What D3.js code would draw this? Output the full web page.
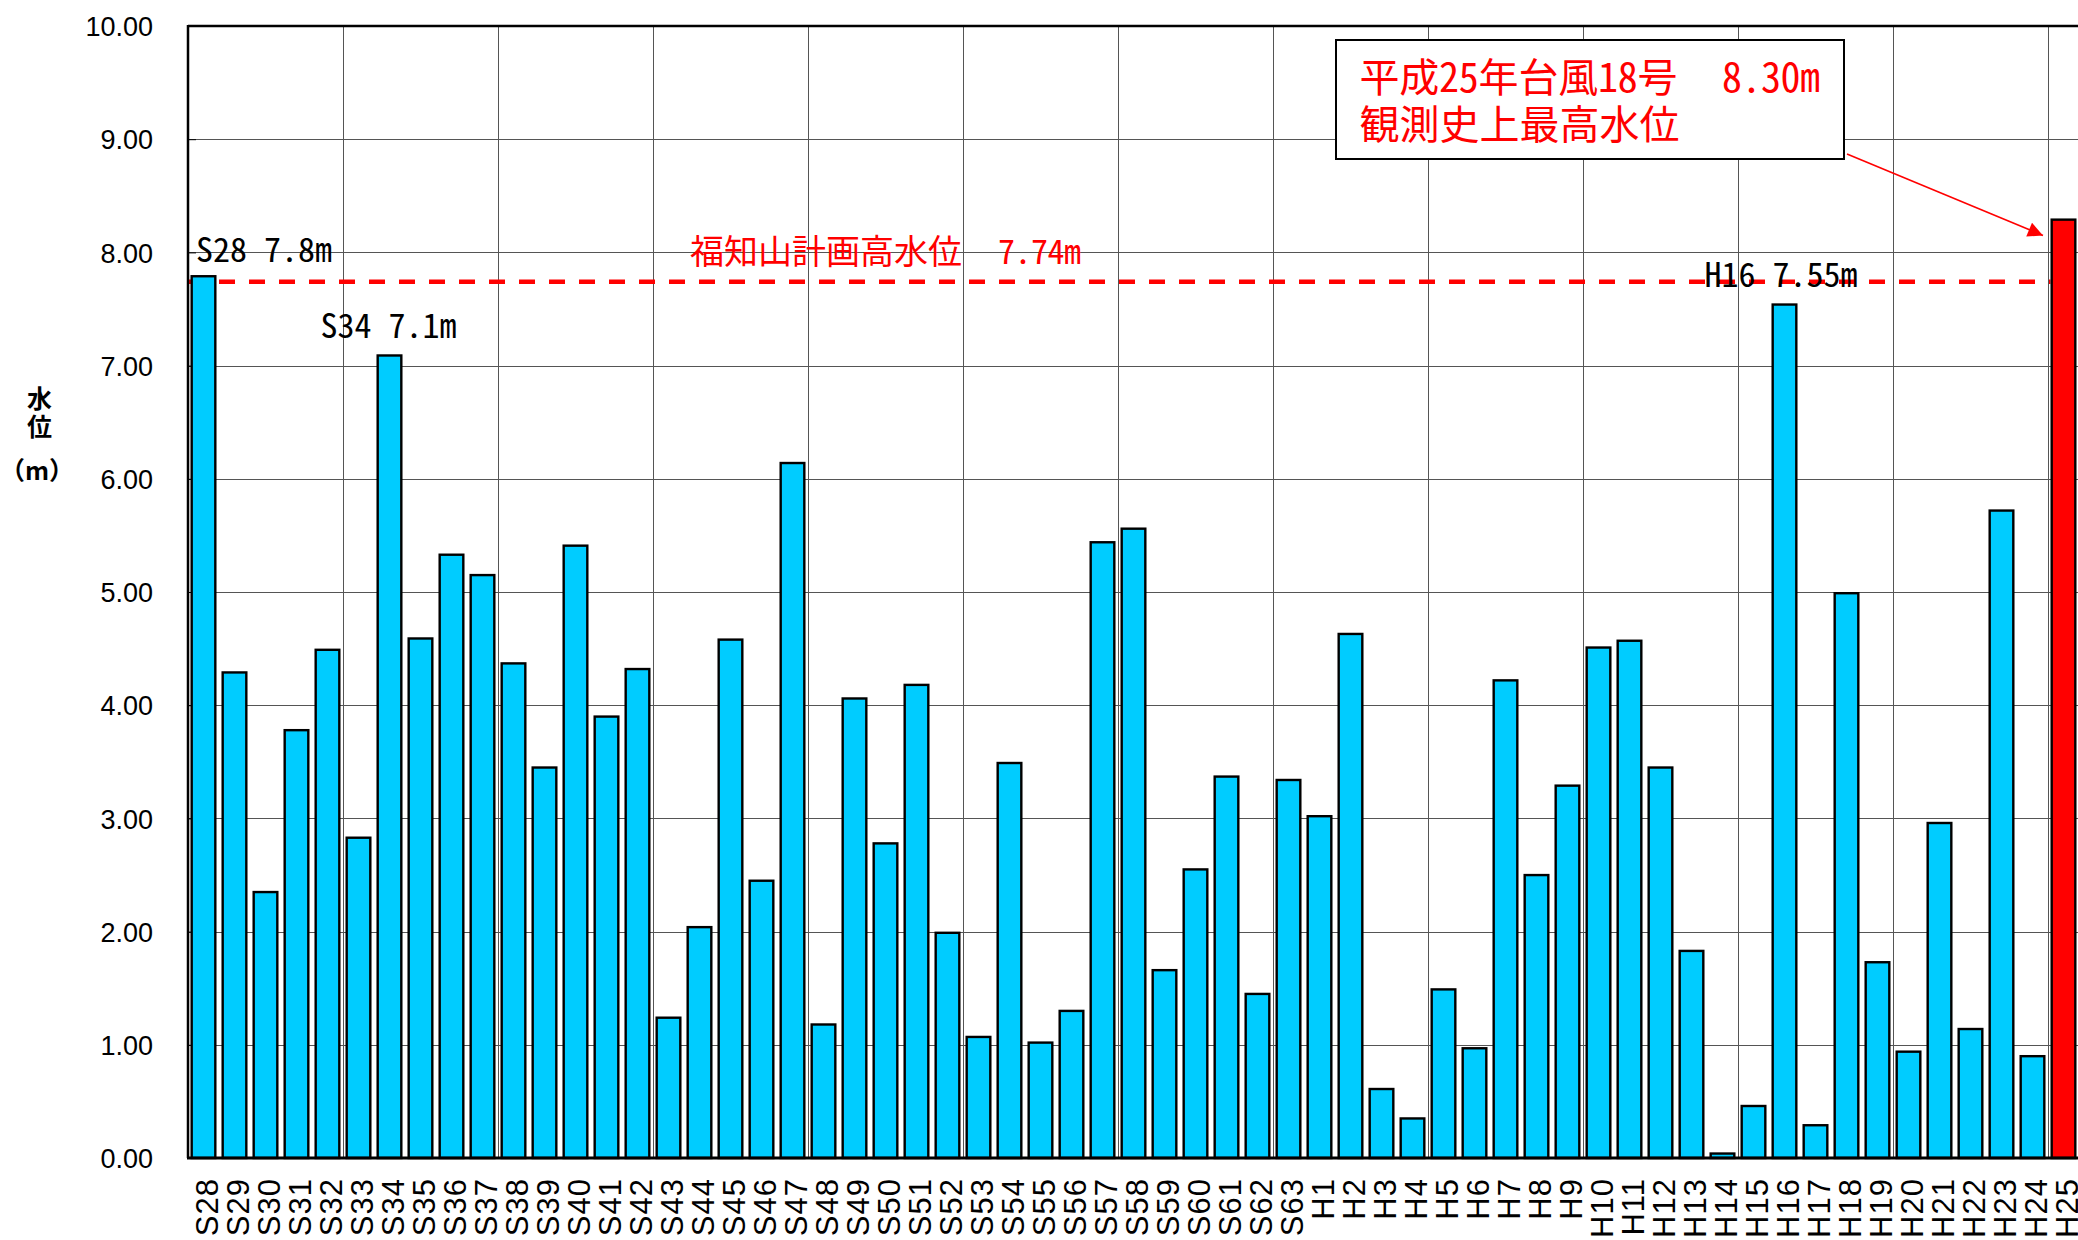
<!DOCTYPE html>
<html>
<head>
<meta charset="utf-8">
<title>福知山 年最高水位</title>
<script src="https://cdn.jsdelivr.net/npm/d3@7"></script>
<style>
	body { margin: 0; background: #fff; }
	svg { display: block; }
	.jp { font-family: "Noto Sans CJK JP", sans-serif; }
	.hw { font-feature-settings: "hwid"; }
	.tick text { font-family: "Liberation Sans", Arial, sans-serif; fill: #000; }
</style>
</head>
<body>
<script>

// years S28 .. H25
var years = ["S28","S29","S30","S31","S32","S33","S34","S35","S36","S37",
	"S38","S39","S40","S41","S42","S43","S44","S45","S46","S47",
	"S48","S49","S50","S51","S52","S53","S54","S55","S56","S57",
	"S58","S59","S60","S61","S62","S63","H1","H2","H3","H4",
	"H5","H6","H7","H8","H9","H10","H11","H12","H13","H14",
	"H15","H16","H17","H18","H19","H20","H21","H22","H23","H24","H25"];

// yearly highest water level (m)
var levels = [7.80,4.30,2.36,3.79,4.50,2.84,7.10,4.60,5.34,5.16,
	4.38,3.46,5.42,3.91,4.33,1.25,2.05,4.59,2.46,6.15,
	1.19,4.07,2.79,4.19,2.00,1.08,3.50,1.03,1.31,5.45,
	5.57,1.67,2.56,3.38,1.46,3.35,3.03,4.64,0.62,0.36,
	1.50,0.98,4.23,2.51,3.30,4.52,4.58,3.46,1.84,0.05,
	0.47,7.55,0.30,5.00,1.74,0.95,2.97,1.15,5.73,0.91,8.30];

var yTicks = [0,1,2,3,4,5,6,7,8,9,10];
var planLevel = 7.74;
var planText = ["福知山計画高水位", "7.74m"];
var peakYears = ["S28","S34","H16"];
var peakTexts = ["S28 7.8m","S34 7.1m","H16 7.55m"];
var recordText = ["平成25年台風18号", "8.30m", "観測史上最高水位"];
var axisTitle = ["水","位","（m）"];

var W = 2078, H = 1240;
// (window.top is reserved, so plot edges get their own names)
var pLeft = 188, pTop = 26, pRight = 2079, pBottom = 1158;

var svg = d3.select("body").append("svg")
	.attr("width", W).attr("height", H);

// scales
var x = d3.scaleBand().domain(years).range([pLeft, pRight])
	.paddingInner(0.16).paddingOuter(0.08);
var y = d3.scaleLinear().domain([0, 10]).range([pBottom, pTop]);

// horizontal grid
svg.append("g").selectAll("line")
	.data(yTicks.filter(function(d){ return d > 0 && d < 10; }))
	.enter().append("line")
	.attr("x1", pLeft).attr("x2", pRight)
	.attr("y1", function(d){ return Math.round(y(d)) + 0.5; })
	.attr("y2", function(d){ return Math.round(y(d)) + 0.5; })
	.attr("stroke", "#555").attr("stroke-width", 1);

// vertical grid every 5 years
var edge = x.step() * 0.08;
svg.append("g").selectAll("line")
	.data(years.filter(function(d, i){ return i > 0 && i % 5 == 0; }))
	.enter().append("line")
	.attr("x1", function(d){ return Math.round(x(d) - edge) + 0.5; })
	.attr("x2", function(d){ return Math.round(x(d) - edge) + 0.5; })
	.attr("y1", pTop).attr("y2", pBottom)
	.attr("stroke", "#555").attr("stroke-width", 1);

// y axis labels + inner ticks
var yAxis = d3.axisLeft(y).tickValues(yTicks)
	.tickFormat(d3.format(".2f"))
	.tickSizeInner(-8).tickSizeOuter(0).tickPadding(35);
var gy = svg.append("g").attr("transform", "translate(" + pLeft + ",0)").call(yAxis);
gy.select(".domain").remove();
gy.selectAll(".tick line").attr("stroke", "#000");
gy.selectAll(".tick text").attr("font-size", 27).attr("dy", "0.36em");

// dashed plan level line
svg.append("line")
	.attr("x1", pLeft + 1).attr("x2", x("H25"))
	.attr("y1", y(planLevel)).attr("y2", y(planLevel))
	.attr("stroke", "#ff0000").attr("stroke-width", 4.5)
	.attr("stroke-dasharray", "16,14");

// bars
var sw = 2.4;
svg.append("g").selectAll("rect")
	.data(levels)
	.enter().append("rect")
	.attr("x", function(d, i){ return x(years[i]) + sw / 2; })
	.attr("y", function(d){ return y(d) + sw / 2; })
	.attr("width", x.bandwidth() - sw)
	.attr("height", function(d){ return Math.max(0, y(0) - y(d) - sw / 2); })
	.attr("fill", function(d, i){ return i == levels.length - 1 ? "#ff0000" : "#00ccff"; })
	.attr("stroke", "#000").attr("stroke-width", sw);

// frame lines
svg.append("line").attr("x1", pLeft).attr("x2", pRight).attr("y1", pTop).attr("y2", pTop)
	.attr("stroke", "#000").attr("stroke-width", 2.5);
svg.append("line").attr("x1", pLeft).attr("x2", pLeft).attr("y1", pTop - 1).attr("y2", pBottom)
	.attr("stroke", "#000").attr("stroke-width", 2.5);

// x axis, rotated labels
var xAxis = d3.axisBottom(x).tickSize(0);
var gx = svg.append("g").attr("transform", "translate(0," + pBottom + ")").call(xAxis);
gx.select(".domain").remove();
gx.selectAll(".tick text")
	.attr("font-size", 31)
	.attr("letter-spacing", 1)
	.attr("transform", "rotate(-90)")
	.attr("text-anchor", "end")
	.attr("x", -20).attr("y", 0).attr("dy", "0.47em");
svg.append("line").attr("x1", pLeft - 1).attr("x2", pRight).attr("y1", pBottom).attr("y2", pBottom)
	.attr("stroke", "#000").attr("stroke-width", 3);

// plan level label
var planX = 690, planY = y(planLevel) - 18;
svg.append("text").attr("class", "jp")
	.attr("x", planX).attr("y", planY)
	.attr("font-size", 34).attr("fill", "#ff0000")
	.text(planText[0]);
svg.append("text").attr("class", "jp hw")
	.attr("x", planX + 306 + 2).attr("y", planY)
	.attr("font-size", 34).attr("fill", "#ff0000")
	.attr("textLength", 83).attr("lengthAdjust", "spacing")
	.text(planText[1]);

// peak labels
var peakDx = [5.5, -56, -67], peakDy = [-13, -16, -16];
svg.append("g").selectAll("text")
	.data(peakTexts)
	.enter().append("text").attr("class", "jp hw")
	.attr("x", function(d, i){ return x(peakYears[i]) + peakDx[i]; })
	.attr("y", function(d, i){ return y(levels[years.indexOf(peakYears[i])]) + peakDy[i]; })
	.attr("font-size", 34).attr("fill", "#000")
	.attr("textLength", function(d){ return d.length * 17; })
	.attr("lengthAdjust", "spacing")
	.text(function(d){ return d; });

// record box
svg.append("rect")
	.attr("x", 1336).attr("y", 40).attr("width", 508).attr("height", 119)
	.attr("fill", "#fff").attr("stroke", "#000").attr("stroke-width", 2);
svg.append("text").attr("class", "jp hw")
	.attr("x", 1359.5).attr("y", 92)
	.attr("font-size", 40).attr("fill", "#ff0000")
	.attr("textLength", 318).attr("lengthAdjust", "spacing")
	.text(recordText[0]);
svg.append("text").attr("class", "jp hw")
	.attr("x", 1722).attr("y", 92)
	.attr("font-size", 40).attr("fill", "#ff0000")
	.attr("textLength", 98).attr("lengthAdjust", "spacing")
	.text(recordText[1]);
svg.append("text").attr("class", "jp")
	.attr("x", 1359.5).attr("y", 139)
	.attr("font-size", 40).attr("fill", "#ff0000")
	.text(recordText[2]);

// arrow to H25
svg.append("defs").append("marker")
	.attr("id", "arr").attr("viewBox", "0 -5 10 10")
	.attr("refX", 10).attr("refY", 0)
	.attr("markerUnits", "userSpaceOnUse")
	.attr("markerWidth", 20).attr("markerHeight", 15)
	.attr("orient", "auto")
	.append("path").attr("d", "M0,-5L10,0L0,5Z").attr("fill", "#ff0000");
svg.append("line")
	.attr("x1", 1847).attr("y1", 154)
	.attr("x2", x("H25") - 7.5).attr("y2", y(levels[levels.length - 1]) + 17)
	.attr("stroke", "#ff0000").attr("stroke-width", 1.6)
	.attr("marker-end", "url(#arr)");

// y title
var gt = svg.append("g").attr("class", "jp").attr("font-weight", "bold")
	.attr("font-size", 25).attr("text-anchor", "middle");
gt.append("text").attr("x", 39.5).attr("y", 408).text(axisTitle[0]);
gt.append("text").attr("x", 39.5).attr("y", 436).text(axisTitle[1]);
gt.append("text").attr("x", 37).attr("y", 480).text(axisTitle[2]);

</script>
</body>
</html>
